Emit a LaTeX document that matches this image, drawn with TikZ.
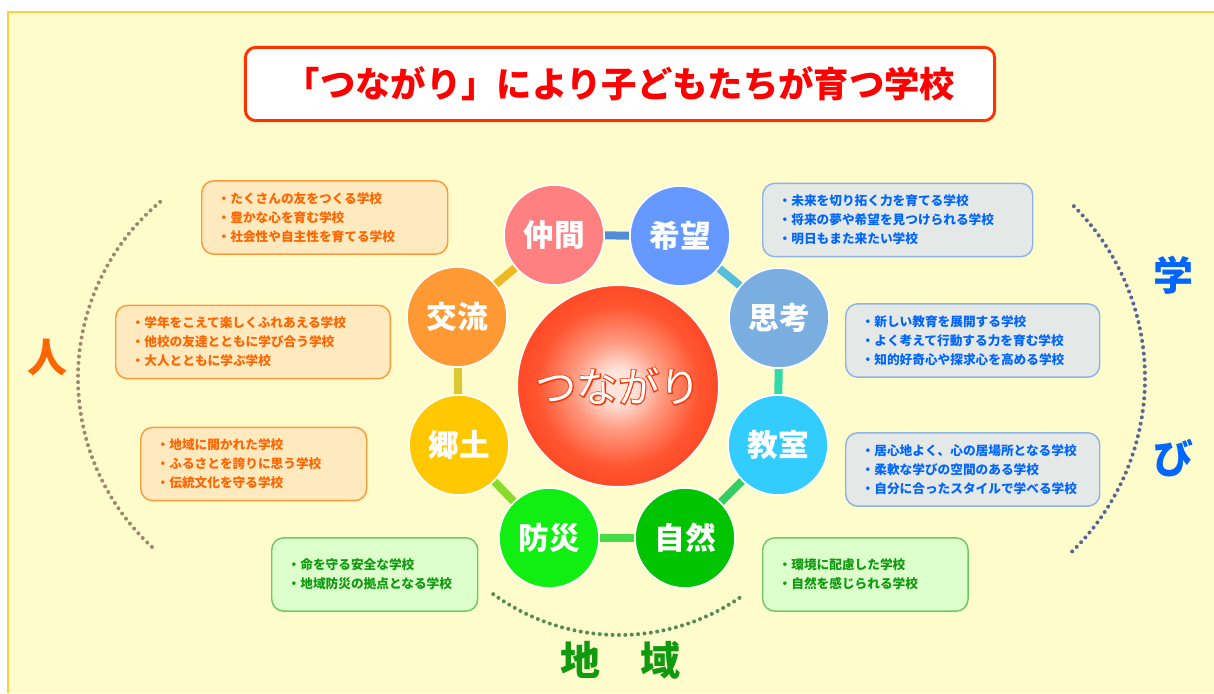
\documentclass[tikz,border=0pt]{standalone}
\usepackage{fontspec}
\usepackage{xcolor}
\usetikzlibrary{positioning}
\newfontfamily\jp{Noto Sans CJK JP}
\newfontfamily\jprim{Noto Sans CJK JP}[FakeBold=5]

\definecolor{fondo}{HTML}{FFFCCC}
\definecolor{fondoborde}{HTML}{FFCC44}
\definecolor{titulorojo}{HTML}{FF3300}
\definecolor{hitotexto}{HTML}{FF6600}
\definecolor{hitofondo}{HTML}{FFE9BF}
\definecolor{hitoborde}{HTML}{FF9A3C}
\definecolor{chiikitexto}{HTML}{109A10}
\definecolor{chiikifondo}{HTML}{DDFFCC}
\definecolor{chiikiborde}{HTML}{70C860}
\definecolor{manabitexto}{HTML}{0066FF}
\definecolor{manabifondo}{HTML}{E4E9E8}
\definecolor{manabiborde}{HTML}{8DB4E2}
\definecolor{bolaA}{HTML}{FFE4DC}
\definecolor{bolaB}{HTML}{FF9A80}
\definecolor{bolaC}{HTML}{FF5530}
\definecolor{bolaD}{HTML}{FF3A18}
\definecolor{bolaE}{HTML}{E82A08}
% circulos
\definecolor{cNakama}{HTML}{FF8080}
\definecolor{cKibou}{HTML}{6699FF}
\definecolor{cShikou}{HTML}{7AADE0}
\definecolor{cKyoushitsu}{HTML}{33CCFF}
\definecolor{cShizen}{HTML}{00C400}
\definecolor{cBousai}{HTML}{11EE11}
\definecolor{cKyoudo}{HTML}{FFC800}
\definecolor{cKouryuu}{HTML}{FF9933}
% enlaces
\definecolor{eUno}{HTML}{508CD7}
\definecolor{eDos}{HTML}{55BEDC}
\definecolor{eTres}{HTML}{32DAAA}
\definecolor{eCuatro}{HTML}{32CD64}
\definecolor{eCinco}{HTML}{46DC46}
\definecolor{eSeis}{HTML}{87DC28}
\definecolor{eSiete}{HTML}{DCC832}
\definecolor{eOcho}{HTML}{EEB923}
% arcos
\definecolor{aHito}{HTML}{A08870}
\definecolor{aManabi}{HTML}{556699}
\definecolor{aChiiki}{HTML}{558C55}

\pgfdeclarelayer{fondo}
\pgfdeclarelayer{enlaces}
\pgfsetlayers{fondo,enlaces,main}
\pgfdeclareradialshading{bola}{\pgfpoint{0bp}{0bp}}{color(0bp)=(bolaA); color(4bp)=(bolaA); color(11bp)=(bolaB); color(20bp)=(bolaC); color(32bp)=(bolaD); color(50bp)=(bolaE)}

\begin{document}
\begin{tikzpicture}[
        x=0.75pt, y=-0.75pt,
        ring/.style={circle, draw=white, line width=1.2pt, minimum size=75pt, inner sep=0pt, text=white, font=\jp\bfseries\fontsize{23}{23}\selectfont},
        notebox/.style={rectangle, rounded corners=9pt, line width=1.1pt, anchor=west, inner xsep=12pt, inner ysep=4pt, minimum height=55pt, align=left, font=\jp\bfseries\fontsize{9.5}{14.25}\selectfont},
        hitobox/.style={notebox, draw=hitoborde, fill=hitofondo, text=hitotexto},
        chiikibox/.style={notebox, draw=chiikiborde, fill=chiikifondo, text=chiikitexto},
        manabibox/.style={notebox, draw=manabiborde, fill=manabifondo, text=manabitexto},
        linkline/.style={line width=6pt},
        arcdots/.style={line width=3pt, line cap=round, dash pattern=on 0pt off 4.8pt},
        axislabel/.style={font=\jp\bfseries\fontsize{30}{30}\selectfont}
    ]
    \useasboundingbox (0,0) rectangle (1214,693);

    % FONDO
    \begin{pgfonlayer}{fondo}
    \fill[white] (0,0) rectangle (1214,693);
    \fill[fondo] (8,12) rectangle (1214,693);
    \draw[fondoborde, line width=0.8pt] (8,693) -- (8,12) -- (1214,12);
    \end{pgfonlayer}

    % TITULO
    \node[rectangle, draw=titulorojo, line width=2.2pt, fill=white, rounded corners=8pt, minimum width=562pt, minimum height=55pt, text=red, font=\jp\bfseries\fontsize{26.5}{26.5}\selectfont] (title) at (620,84) {「つながり」により子どもたちが育つ学校};

    % CENTRO
    \node[circle, shading=bola, draw=white, line width=1pt, minimum size=151pt, inner sep=0pt] (hub) at (618,386) {};
    \node[text=titulorojo, font=\jprim\fontsize{31}{31}\selectfont] (tsunagariRim) at (hub) {つながり};
    \node[text=white, font=\jp\fontsize{31}{31}\selectfont] (tsunagari) at (hub) {つながり};

    % CIRCULOS
    \node[ring, fill=cNakama] (nakama) at (554,235) {仲間};
    \node[ring, fill=cKibou] (kibou) at (680,236) {希望};
    \node[ring, fill=cShikou] (shikou) at (779,318) {思考};
    \node[ring, fill=cKyoushitsu] (kyoushitsu) at (778,445) {教室};
    \node[ring, fill=cShizen] (shizen) at (685,538) {自然};
    \node[ring, fill=cBousai] (bousai) at (549,538) {防災};
    \node[ring, fill=cKyoudo] (kyoudo) at (459,445) {郷土};
    \node[ring, fill=cKouryuu] (kouryuu) at (457,317) {交流};

    % ENLACES
    \begin{pgfonlayer}{enlaces}
    \draw[linkline, eUno] (nakama) -- (kibou);
    \draw[linkline, eDos] (kibou) -- (shikou);
    \draw[linkline, eTres] (shikou) -- (kyoushitsu);
    \draw[linkline, eCuatro] (kyoushitsu) -- (shizen);
    \draw[linkline, eCinco] (shizen) -- (bousai);
    \draw[linkline, eSeis] (bousai) -- (kyoudo);
    \draw[linkline, eSiete] (kyoudo) -- (kouryuu);
    \draw[linkline, eOcho] (kouryuu) -- (nakama);
    \end{pgfonlayer}

    % CUADROS - HITO
    \node[hitobox, text width=160.5pt] (nakamaNote) at (201,217.5) {・たくさんの友をつくる学校\\・豊かな心を育む学校\\・社会性や自主性を育てる学校};
    \node[hitobox, text width=182pt] (kouryuuNote) at (115,342) {・学年をこえて楽しくふれあえる学校\\・他校の友達とともに学び合う学校\\・大人とともに学ぶ学校};
    \node[hitobox, text width=145.5pt] (kyoudoNote) at (140,464) {・地域に開かれた学校\\・ふるさとを誇りに思う学校\\・伝統文化を守る学校};

    % CUADROS - CHIIKI
    \node[chiikibox, text width=130.5pt] (bousaiNote) at (271,574.5) {・命を守る安全な学校\\・地域防災の拠点となる学校};
    \node[chiikibox, text width=130pt] (shizenNote) at (762,574.5) {・環境に配慮した学校\\・自然を感じられる学校};

    % CUADROS - MANABI
    \node[manabibox, text width=178.5pt] (kibouNote) at (762,220) {・未来を切り拓く力を育てる学校\\・将来の夢や希望を見つけられる学校\\・明日もまた来たい学校};
    \node[manabibox, text width=166.5pt] (shikouNote) at (845,340.5) {・新しい教育を展開する学校\\・よく考えて行動する力を育む学校\\・知的好奇心や探求心を高める学校};
    \node[manabibox, text width=166.5pt] (kyoushitsuNote) at (845,469.5) {・居心地よく、心の居場所となる学校\\・柔軟な学びの空間のある学校\\・自分に合ったスタイルで学べる学校};

    % ARCOS
    \draw[arcdots, aHito] (308,378) ++(230:230) arc[start angle=230, end angle=132, radius=230];
    \draw[arcdots, aManabi] (902,378) ++(-45:243) arc[start angle=-45, end angle=47, radius=243];
    \draw[arcdots, aChiiki] (619,421) ++(126:214) arc[start angle=126, end angle=55, radius=214];

    % EJES
    \node[axislabel, text=hitotexto] (hito) at (47,358) {人};
    \node[axislabel, text=manabitexto] (mana) at (1173,275) {学};
    \node[axislabel, text=manabitexto] (bi) at (1173,458) {び};
    \node[axislabel, text=chiikitexto] (chiiki) at (620,660) {地　域};
\end{tikzpicture}
\end{document}
